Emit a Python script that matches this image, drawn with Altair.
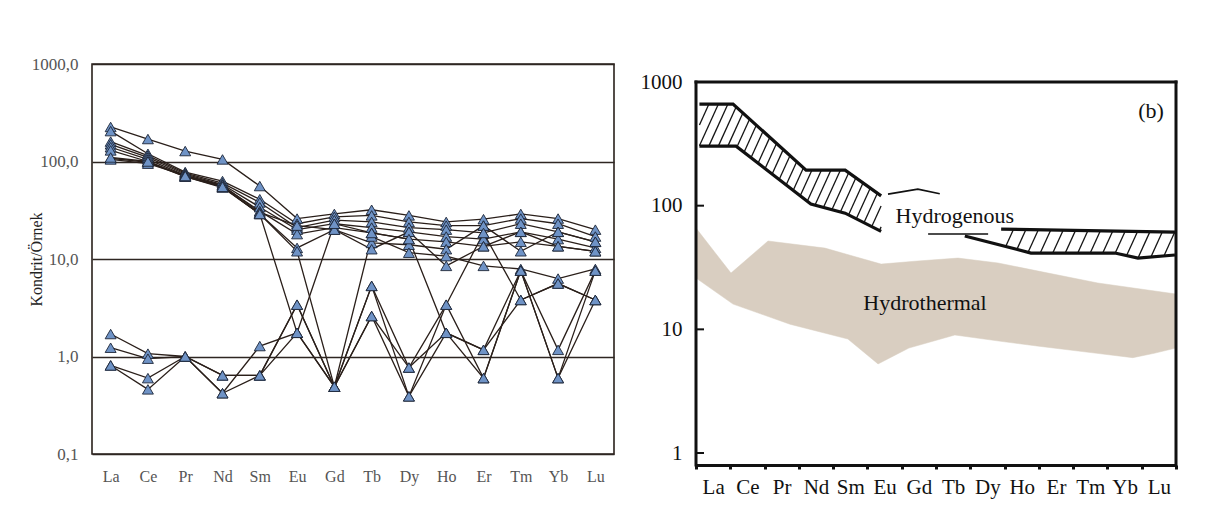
import json
import math
import altair as alt
import numpy as np
import pandas as pd

elements = ["La", "Ce", "Pr", "Nd", "Sm", "Eu", "Gd", "Tb", "Dy", "Ho", "Er", "Tm", "Yb", "Lu"]

# ---------------- left panel: chondrite-normalised sample patterns ----------------
s01 = [226, 170, 128, 105, 56, 26, 29, 32, 28, 24, 25.6, 29, 26, 20]
s02 = [205, 120, 78, 63, 41, 23, 27, 28, 24, 22, 22, 26, 23, 17]
s03 = [160, 115, 76, 60, 38, 21, 25, 24, 21, 20, 18.5, 23, 19, 15]
s04 = [150, 110, 74, 58, 34, 20, 23, 21, 19, 17, 16, 19, 16, 13]
s05 = [140, 105, 72, 56, 31, 18, 21, 18.5, 16, 15, 13.5, 15, 13.5, 12]
s06 = [130, 100, 70, 55, 29, 13, 20, 14.6, 14, 12.6, 22, 12, 19, 15]
s07 = [108, 98, 70, 54, 29, 12, 0.49, 17, 11.6, 10.7, 8.5, 7.9, 6.3, 7.9]
s08 = [105, 95, 72, 57, 30, 22, 20, 12.6, 19, 8.5, 13.5, 19, 13.5, 12]
s09 = [110, 100, 71, 55, 29, 1.75, 0.49, 2.6, 0.77, 1.75, 1.17, 3.8, 5.6, 3.8]
s10 = [0.81, 0.46, 1.0, 0.64, 0.64, 1.75, 23, 18.5, 16, 1.75, 0.6, 7.6, 0.6, 7.6]
s11 = [1.7, 1.07, 1.0, 0.64, 0.64, 3.4, 0.49, 5.3, 0.77, 3.4, 0.6, 7.6, 1.17, 7.6]
s12 = [1.23, 0.95, 1.0, 0.42, 1.28, 1.75, 0.49, 2.6, 0.39, 1.75, 1.17, 7.6, 0.6, 3.8]
s13 = [0.81, 0.6, 1.0, 0.42, 0.64, 3.4, 0.49, 5.3, 0.39, 3.4, 18.5, 3.8, 5.6, 3.8]

samples = {"s01": s01, "s02": s02, "s03": s03, "s04": s04, "s05": s05, "s06": s06, "s07": s07,
           "s08": s08, "s09": s09, "s10": s10, "s11": s11, "s12": s12, "s13": s13}
left_ticks = [0.1, 1, 10, 100, 1000]

# ---------------- right panel: reference fields ----------------
# positions are in element-band units (0 = left edge of La band, 14 = right edge of Lu band)
hydrothermal_upper_pos = [0, 1.02, 2.10, 3.76, 5.40, 6.47, 7.64, 8.81, 10.27, 11.72, 14.0]
hydrothermal_upper_val = [65.9, 28.5, 51.8, 45.4, 33.7, 35.7, 37.7, 34.4, 28.5, 23.7, 19.3]
hydrothermal_lower_pos = [0, 1.08, 2.74, 4.43, 5.31, 6.21, 7.55, 8.89, 10.0, 11.69, 12.74, 13.36, 14.0]
hydrothermal_lower_val = [26.0, 16.0, 11.0, 8.35, 5.25, 7.06, 9.0, 8.0, 7.3, 6.4, 5.9, 6.4, 7.06]

hydrogenous_a_upper_pos = [0.1, 1.08, 3.21, 4.35, 5.40]
hydrogenous_a_upper_val = [663, 663, 194, 194, 120]
hydrogenous_a_lower_pos = [0.1, 1.17, 3.35, 4.35, 5.40]
hydrogenous_a_lower_val = [303, 303, 103, 87, 62]
hydrogenous_gd_pos = [5.6, 6.47, 7.11]
hydrogenous_gd_val = [124, 136, 125]
hydrogenous_thin_pos = [6.77, 8.52]
hydrogenous_thin_val = [59, 59]
hydrogenous_b_upper_pos = [8.9, 13.97]
hydrogenous_b_upper_val = [64.7, 61.2]
hydrogenous_b_lower_pos = [7.84, 9.77, 12.22, 12.89, 13.97]
hydrogenous_b_lower_val = [56.8, 41.4, 41.4, 37.7, 39.9]

label_text = ["Hydrogenous", "Hydrothermal", "(b)"]
label_pos = [7.55, 6.68, 13.27]
label_val = [82, 16.3, 582]

right_ticks = [1, 10, 100, 1000]

serif = "Liberation Serif"
LW, LH = 522, 390
RW = 480
RMIN = 0.8                      # bottom of the right log axis
RFRAME = 1000                   # value at the top frame line of the right panel
PX_PER_DEC = 383 / (math.log10(RFRAME) - math.log10(RMIN))
RH = 401                        # plot height (extra room above the frame line)
RTOP = 10 ** (math.log10(RMIN) + RH / PX_PER_DEC)

# ---------------- left chart ----------------
left_df = pd.DataFrame([
    {"sample": k, "element": e, "value": v}
    for k, vals in samples.items() for e, v in zip(elements, vals)
])

xl = alt.X("element:N", sort=elements, scale=alt.Scale(type="point", padding=0.5),
           axis=alt.Axis(title=None, labelAngle=0, ticks=False, domain=False, grid=False,
                         labelFont=serif, labelFontSize=16, labelColor="#555",
                         labelPadding=14))
yl = alt.Y("value:Q", scale=alt.Scale(type="log", domain=[0.1, 1000], nice=False),
           axis=alt.Axis(title="Kondrit/Örnek", values=left_ticks,
                         labelExpr="replace(format(datum.value, '.1f'), '.', ',')",
                         grid=True, gridColor="#2e2622", gridWidth=1.3, ticks=False, domain=False,
                         labelFont=serif, labelFontSize=17, labelColor="#555", labelPadding=14,
                         titleFont=serif, titleFontSize=16, titleFontWeight="normal",
                         titleColor="#222", titleX=-48, titleBaseline="bottom"))

base = alt.Chart(left_df).encode(x=xl, y=yl)
left_lines = base.mark_line(color="#2a1f1a", strokeWidth=1.3).encode(detail="sample:N")
left_pts = base.mark_point(shape="triangle-up", filled=True, fill="#6f93c6", stroke="#1d2638",
                           strokeWidth=0.9, size=120, opacity=1).encode(detail="sample:N")
left = alt.layer(left_lines, left_pts).properties(
    width=LW, height=LH, view=alt.ViewBackground(stroke="#2a211c", strokeWidth=1.6))

# ---------------- right chart ----------------


def to_px(p, v):
    return (np.asarray(p, float) * RW / 14.0,
            (math.log10(RTOP) - np.log10(np.asarray(v, float))) * PX_PER_DEC)


def from_px(X, Y):
    return float(X * 14.0 / RW), float(10 ** (math.log10(RTOP) - Y / PX_PER_DEC))


def hatch(up_p, up_v, lo_p, lo_v, step, slope=2.2):
    UX, UY = to_px(up_p, up_v)
    LX, LY = to_px(lo_p, lo_v)
    x0, x1 = max(UX[0], LX[0]), min(UX[-1], LX[-1])
    ytop, ybot = min(UY.min(), LY.min()), max(UY.max(), LY.max())
    segs = []
    c = x0 - (ybot - ytop) / slope
    Ys = np.linspace(ytop, ybot, 800)
    while c < x1:
        Xs = c + (ybot - Ys) / slope
        inside = (Xs >= x0) & (Xs <= x1)
        up = np.interp(Xs, UX, UY)
        lo = np.interp(Xs, LX, LY)
        inside &= (Ys >= up) & (Ys <= lo)
        idx = np.flatnonzero(inside)
        if idx.size > 1:
            br = np.flatnonzero(np.diff(idx) > 1)
            starts = np.r_[idx[0], idx[br + 1]]
            ends = np.r_[idx[br], idx[-1]]
            for s, e in zip(starts, ends):
                a = from_px(Xs[s], Ys[s])
                b = from_px(Xs[e], Ys[e])
                segs.append({"pos": a[0], "v": a[1], "pos2": b[0], "v2": b[1]})
        c += step
    return segs


hatch_df = pd.DataFrame(
    hatch(hydrogenous_a_upper_pos, hydrogenous_a_upper_val, hydrogenous_a_lower_pos, hydrogenous_a_lower_val, 9.5)
    + hatch(hydrogenous_b_upper_pos, hydrogenous_b_upper_val, hydrogenous_b_lower_pos, hydrogenous_b_lower_val, 12.5)
)

poly = list(zip(hydrothermal_upper_pos, hydrothermal_upper_val)) + \
    list(zip(hydrothermal_lower_pos, hydrothermal_lower_val))[::-1]
hydrothermal_df = pd.DataFrame({"pos": [p for p, _ in poly], "v": [v for _, v in poly],
                                "order": list(range(len(poly)))})

edge_parts = {
    "a_up": (hydrogenous_a_upper_pos, hydrogenous_a_upper_val),
    "a_lo": (hydrogenous_a_lower_pos, hydrogenous_a_lower_val),
    "b_up": (hydrogenous_b_upper_pos, hydrogenous_b_upper_val),
    "b_lo": (hydrogenous_b_lower_pos, hydrogenous_b_lower_val),
}
edge_df = pd.DataFrame([{"part": k, "pos": p, "v": v} for k, (ps, vs) in edge_parts.items()
                        for p, v in zip(ps, vs)])
thin_parts = {"gd": (hydrogenous_gd_pos, hydrogenous_gd_val),
              "thin": (hydrogenous_thin_pos, hydrogenous_thin_val)}
thin_df = pd.DataFrame([{"part": k, "pos": p, "v": v} for k, (ps, vs) in thin_parts.items()
                        for p, v in zip(ps, vs)])
text_df = pd.DataFrame({"label": label_text, "pos": label_pos, "v": label_val})
ytick_df = pd.DataFrame({"v": right_ticks[:-1]})
# frame of the right panel: left, top and right sides at the domain limits
frame_df = pd.DataFrame({"pos": [0, 0, 14], "pos2": [0, 14, 14],
                         "v": [RMIN, RFRAME, RMIN], "v2": [RFRAME, RFRAME, RFRAME]})

names_js = json.dumps(elements).replace('"', "'")
xr = alt.X("pos:Q", scale=alt.Scale(domain=[0, 14], nice=False, zero=False),
           axis=alt.Axis(title=None, values=[i / 2 for i in range(29)], grid=False,
                         labelExpr=f"datum.value % 1 == 0 ? '' : {names_js}[floor(datum.value)]",
                         tickOpacity={"condition": {"test": "datum.value % 1 != 0", "value": 0}, "value": 1},
                         tickSize=4, tickWidth=3, tickColor="#111", domainWidth=3, domainColor="#111",
                         labelFont=serif, labelFontSize=21, labelColor="#111", labelPadding=7,
                         labelOverlap=False, labelFlush=False))
yr = alt.Y("v:Q", scale=alt.Scale(type="log", domain=[RMIN, RTOP], nice=False),
           axis=alt.Axis(title=None, values=right_ticks, format="d", ticks=False, grid=False,
                         domain=False, labelFont=serif, labelFontSize=21,
                         labelColor="#111", labelPadding=14))

hydro_layer = alt.Chart(hydrothermal_df).mark_line(fill="#d9cec1", stroke="#d9cec1", strokeWidth=0.5).encode(
    x=xr, y=yr, order="order:Q")
hatch_layer = alt.Chart(hatch_df).mark_rule(color="#151515", strokeWidth=1.3).encode(
    x=xr, y=yr, x2="pos2:Q", y2="v2:Q")
edge_layer = alt.Chart(edge_df).mark_line(color="#111", strokeWidth=3.2).encode(
    x=xr, y=yr, detail="part:N")
thin_layer = alt.Chart(thin_df).mark_line(color="#111", strokeWidth=1.6).encode(
    x=xr, y=yr, detail="part:N")
frame_layer = alt.Chart(frame_df).mark_rule(color="#111", strokeWidth=3, strokeCap="square").encode(
    x=xr, y=yr, x2="pos2:Q", y2="v2:Q")
ytick_layer = alt.Chart(ytick_df).mark_rule(color="#111", strokeWidth=2).encode(
    y=yr, x=alt.value(0), x2=alt.value(8))
text_layer = alt.Chart(text_df).mark_text(font=serif, fontSize=22, color="#111").encode(
    x=xr, y=yr, text="label:N")

right = alt.layer(hydro_layer, hatch_layer, edge_layer, thin_layer, frame_layer, ytick_layer,
                  text_layer).properties(
    width=RW, height=RH, view=alt.ViewBackground(stroke="transparent"))

chart = alt.hconcat(left, right, spacing=24).properties(
    padding={"left": 19, "top": 46, "right": 5, "bottom": 5},
    background="white")

chart.save("out.html", embed_options={"renderer": "svg", "actions": False})
